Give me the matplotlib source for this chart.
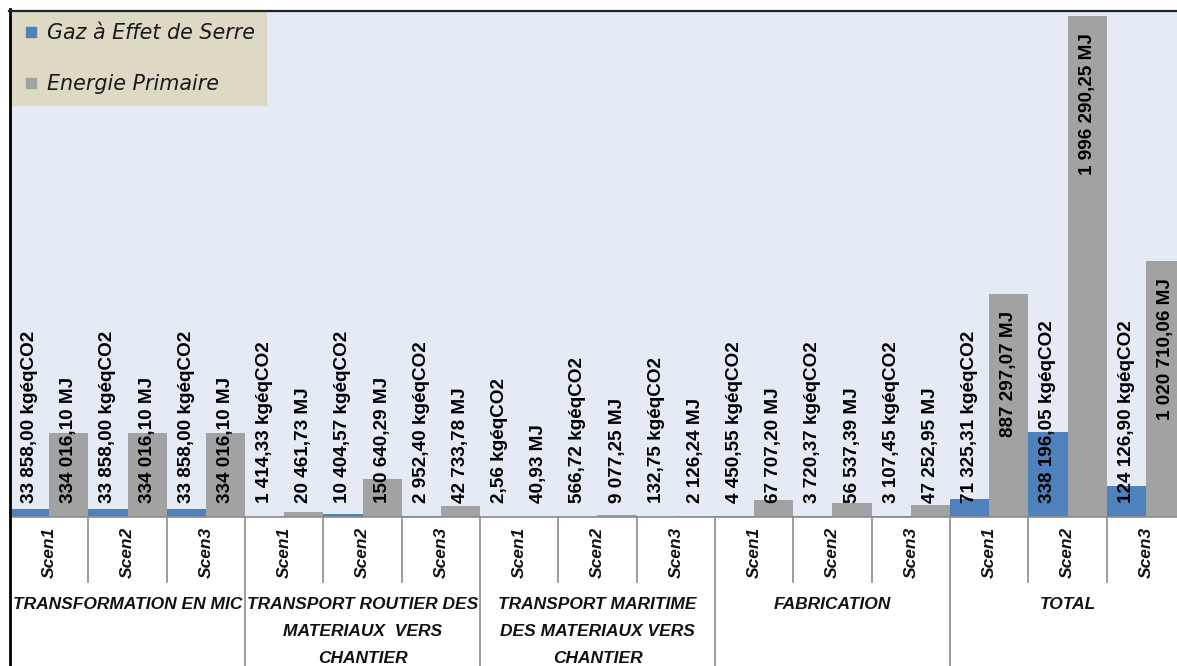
import matplotlib
matplotlib.use("Agg")
import matplotlib.pyplot as plt
import numpy as np
from matplotlib.lines import Line2D

# ---------------- data ----------------
groups = ["TRANSFORMATION EN MIC",
          "TRANSPORT ROUTIER DES\nMATERIAUX  VERS\nCHANTIER",
          "TRANSPORT MARITIME\nDES MATERIAUX VERS\nCHANTIER",
          "FABRICATION",
          "TOTAL"]
scenarios = ["Scen1", "Scen2", "Scen3"]
series_names = ["Gaz à Effet de Serre", "Energie Primaire"]
ges = [33858.00, 33858.00, 33858.00,
       1414.33, 10404.57, 2952.40,
       2.56, 566.72, 132.75,
       4450.55, 3720.37, 3107.45,
       71325.31, 338196.05, 124126.90]
ep = [334016.10, 334016.10, 334016.10,
      20461.73, 150640.29, 42733.78,
      40.93, 9077.25, 2126.24,
      67707.20, 56537.39, 47252.95,
      887297.07, 1996290.25, 1020710.06]
units = ["kgéqCO2", "MJ"]

BLUE = "#4F81BD"
GRAY = "#A0A2A4"
BG = "#E4EBF5"
LEG_BG = "#DDD9C4"

def fr(v):
    return f"{v:,.2f}".replace(",", " ").replace(".", ",")

W, H = 1177, 666
fig = plt.figure(figsize=(W / 100, H / 100), dpi=100, facecolor="white")
x0, x1 = 10, 1185
ytop, ybase = 12, 517
axh = ybase - ytop
ax = fig.add_axes([x0 / W, (H - ybase) / H, (x1 - x0) / W, axh / H])
ax.set_facecolor(BG)

n = len(ges)
x = np.arange(n)
b1 = ax.bar(x - 0.25, ges, width=0.5, color=BLUE, label=series_names[0], zorder=2)
b2 = ax.bar(x + 0.25, ep, width=0.5, color=GRAY, label=series_names[1], zorder=2)
ax.set_xlim(-0.5, n - 0.5)
ax.set_ylim(0, 2.012e6)
ax.set_xticks([])
ax.set_yticks([])
for s in ["left", "right", "top"]:
    ax.spines[s].set_visible(False)
ax.spines["bottom"].set_color("#8C8C8C")
ax.spines["bottom"].set_linewidth(1.2)

# data labels
lab_font = dict(family="Liberation Sans", weight="bold", size=13.6, color="black")
texts = []
for bars, vals, unit in [(b1, ges, units[0]), (b2, ep, units[1])]:
    for r, v in zip(bars, vals):
        xc = r.get_x() + r.get_width() / 2
        t = ax.annotate(f"{fr(v)} {unit}", xy=(xc, v), xytext=(0, -17),
                        textcoords="offset pixels", rotation=90,
                        ha="center", va="top", zorder=3, **lab_font)
        texts.append((t, xc))

fig.canvas.draw()
rend = fig.canvas.get_renderer()
min_bottom = (H - ybase) + 14
for t, xc in texts:
    bb = t.get_window_extent(rend)
    if bb.y0 < min_bottom:
        t.xy = (xc, 0)
        t.set_position((0, 14))
        t.set_va("bottom")

# category axis
tr = ax.get_xaxis_transform()
for i in range(n):
    ax.text(i, -35 / axh, scenarios[i % 3], transform=tr, rotation=90,
            ha="center", va="center", family="Liberation Sans",
            weight="bold", style="italic", size=12.5, color="#111111", clip_on=False)
for i in range(n - 1):
    if (i + 1) % 3 == 0:
        ax.plot([i + 0.5, i + 0.5], [0, -150 / axh], transform=tr, color="#8C8C8C",
                lw=1.2, clip_on=False)
    else:
        ax.plot([i + 0.5, i + 0.5], [0, -65 / axh], transform=tr, color="#8C8C8C",
                lw=1.2, clip_on=False)
for g, name in enumerate(groups):
    ax.text(3 * g + 1, -80 / axh, name, transform=tr, ha="center", va="top",
            multialignment="center", linespacing=2.02, family="Liberation Sans",
            weight="bold", style="italic", size=12.5, color="#111111", clip_on=False)

# legend (square markers as in the original)
handles = [Line2D([], [], ls="", marker="s", markersize=6.6, color=b1.patches[0].get_facecolor()),
           Line2D([], [], ls="", marker="s", markersize=6.6, color=b2.patches[0].get_facecolor())]
leg = ax.legend(handles, series_names, loc="upper left",
                bbox_to_anchor=(2 / (x1 - x0), 1.0), borderaxespad=0,
                frameon=True, fancybox=False, facecolor=LEG_BG, edgecolor=LEG_BG,
                framealpha=1, handlelength=0.8, handletextpad=0.36,
                labelspacing=1.5, borderpad=0.52,
                prop=dict(family="DejaVu Sans", style="oblique", size=14.9))
for t in leg.get_texts():
    t.set_color("#1a1a1a")

# chart border
fig.add_artist(Line2D([9.5 / W, 9.5 / W], [0, (H - 9) / H], transform=fig.transFigure,
                      color="black", lw=2.0))
fig.add_artist(Line2D([8.5 / W, 1], [(H - 10.5) / H, (H - 10.5) / H], transform=fig.transFigure,
                      color="#222222", lw=1.6))

fig.savefig("out.png", dpi=100, facecolor="white")
